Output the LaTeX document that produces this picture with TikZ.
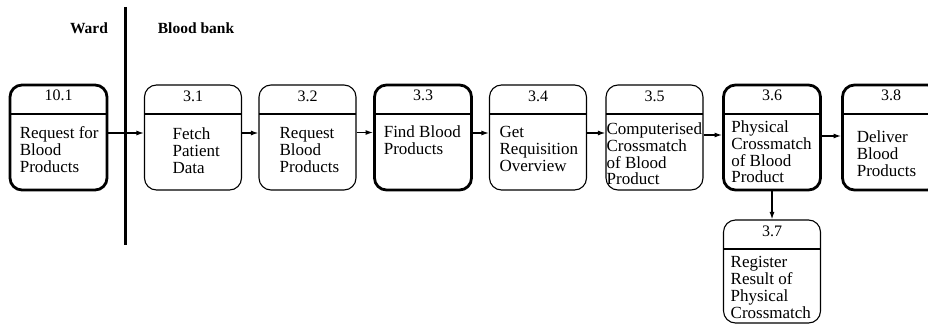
\documentclass[tikz,border=0pt]{standalone}
\usepackage{fontspec}
\setmainfont{Liberation Serif}
\usetikzlibrary{arrows.meta}
\tikzstyle{proc}=[rectangle, draw, rounded corners=12pt, line width=1.1pt, minimum width=97pt, minimum height=105pt, inner sep=0pt,
  path picture={\draw[line width=1.1pt] ([yshift=-29pt]path picture bounding box.north west) -- ([yshift=-29pt]path picture bounding box.north east);}]
\tikzstyle{procb}=[proc, line width=2.8pt,
  path picture={\draw[line width=2.2pt] ([yshift=-29pt]path picture bounding box.north west) -- ([yshift=-29pt]path picture bounding box.north east);}]
\tikzstyle{num}=[inner sep=0pt, font=\fontsize{16}{17}\selectfont]
\tikzstyle{body}=[inner sep=0pt, anchor=north west, align=left, font=\fontsize{17}{16.8}\selectfont]
\tikzstyle{flow}=[line width=1.3pt, -{Latex[length=7.5pt,width=5pt]}]
\tikzstyle{lane}=[inner sep=0pt, font=\bfseries\fontsize{15.5}{17}\selectfont]

\begin{document}
\begin{tikzpicture}[x=1pt, y=-1pt]
  \useasboundingbox (0,0) rectangle (928,329);
  \clip (0,0) rectangle (928,329);

  % swim lanes
  \node[lane] (ward) at (89,28) {Ward};
  \node[lane] (bank) at (196,28) {Blood bank};
  \draw[line width=3pt] (125,7) -- (125,245);

  % processes
  \node[procb] (p101) at (58.5,137.5) {};
  \node[num] (n101) at ([yshift=-12pt]p101.north) {10.1};
  \node[body] (t101) at ([xshift=11pt,yshift=-43pt]p101.north west) {Request for\\Blood\\Products};

  \node[proc] (p31) at (193,137.5) {};
  \node[num] (n31) at ([yshift=-12pt]p31.north) {3.1};
  \node[body] (t31) at ([xshift=28.5pt,yshift=-43pt]p31.north west) {Fetch\\Patient\\Data};

  \node[proc] (p32) at (307.5,137.5) {};
  \node[num] (n32) at ([yshift=-12pt]p32.north) {3.2};
  \node[body] (t32) at ([xshift=21pt,yshift=-43pt]p32.north west) {Request\\Blood\\Products};

  \node[procb] (p33) at (423,137.5) {};
  \node[num] (n33) at ([yshift=-12pt]p33.north) {3.3};
  \node[body] (t33) at ([xshift=10.5pt,yshift=-42pt]p33.north west) {Find Blood\\Products};

  \node[proc] (p34) at (538,137.5) {};
  \node[num] (n34) at ([yshift=-12pt]p34.north) {3.4};
  \node[body] (t34) at ([xshift=10.5pt,yshift=-42pt]p34.north west) {Get\\Requisition\\Overview};

  \node[proc] (p35) at (654.5,137.5) {};
  \node[num] (n35) at ([yshift=-12pt]p35.north) {3.5};
  \node[body] (t35) at ([xshift=1pt,yshift=-38pt]p35.north west) {Computerised\\Crossmatch\\of Blood\\Product};

  \node[procb] (p36) at (772,137.5) {};
  \node[num] (n36) at ([yshift=-12pt]p36.north) {3.6};
  \node[body] (t36) at ([xshift=9pt,yshift=-37pt]p36.north west) {Physical\\Crossmatch\\of Blood\\Product};

  \node[procb] (p38) at (891,137.5) {};
  \node[num] (n38) at ([yshift=-12pt]p38.north) {3.8};
  \node[body] (t38) at ([xshift=15.5pt,yshift=-47pt]p38.north west) {Deliver\\Blood\\Products};

  \node[proc, minimum height=103pt] (p37) at (772,271.5) {};
  \node[num] (n37) at ([yshift=-12pt]p37.north) {3.7};
  \node[body] (t37) at ([xshift=7.5pt,yshift=-37pt]p37.north west) {Register\\Result of\\Physical\\Crossmatch};

  % flows
  \draw[flow] ([yshift=4.5pt]p101.east) -- ([yshift=4.5pt]p31.west);
  \draw[flow] ([yshift=4.5pt]p31.east) -- ([yshift=4.5pt]p32.west);
  \draw[flow] ([yshift=5pt]p32.east) -- ([yshift=5pt]p33.west);
  \draw[flow] ([yshift=4.5pt]p33.east) -- ([yshift=4.5pt]p34.west);
  \draw[flow] ([yshift=4.5pt]p34.east) -- ([yshift=4.5pt]p35.west);
  \draw[flow] ([yshift=2.5pt]p35.east) -- ([yshift=2.5pt]p36.west);
  \draw[flow] ([yshift=1.5pt]p36.east) -- ([yshift=1.5pt]p38.west);
  \draw[flow] (p36.south) -- (p37.north);
\end{tikzpicture}
\end{document}
